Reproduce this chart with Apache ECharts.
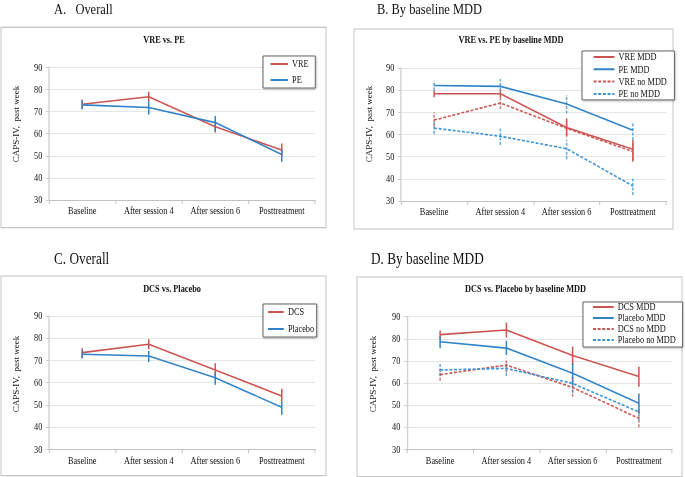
<!DOCTYPE html>
<html><head><meta charset="utf-8">
<script src="https://cdn.jsdelivr.net/npm/echarts@6/dist/echarts.min.js"></script>
<style>
html,body{margin:0;padding:0;overflow:hidden;background:#fff;width:685px;height:477px}
#main{height:477px;transform-origin:0 0;}
</style></head>
<body><div id="main"></div>
<script>
// ---------- data ----------
const categories = ['Baseline', 'After session 4', 'After session 6', 'Posttreatment'];
const yMin = 30, yMax = 90, yStep = 10;

// Panel A: VRE vs. PE
const vreMean = [73.3, 76.7, 63.1, 52.6];
const vreLow  = [71.3, 74.5, 60.5, 49.5];
const vreHigh = [75.3, 79.0, 65.5, 55.6];
const peMean  = [73.0, 71.8, 65.0, 50.6];
const peLow   = [71.0, 68.7, 61.1, 47.3];
const peHigh  = [75.0, 74.5, 68.0, 53.3];

// Panel B: VRE vs. PE by baseline MDD
const vreMddMean = [78.4, 78.4, 63.2, 53.3];
const vreMddLow  = [76.8, 76.6, 59.0, 47.7];
const vreMddHigh = [80.0, 80.4, 67.3, 57.5];
const peMddMean  = [82.1, 81.7, 73.8, 61.9];
const peMddLow   = [80.0, 79.8, 69.5, 57.5];
const peMddHigh  = [84.3, 85.0, 77.8, 65.8];
const vreNoMean  = [66.5, 74.2, 62.8, 52.3];
const vreNoLow   = [63.5, 71.4, 59.5, 48.5];
const vreNoHigh  = [70.0, 76.6, 66.0, 56.0];
const peNoMean   = [62.9, 59.2, 53.6, 36.8];
const peNoLow    = [60.2, 55.3, 48.8, 32.7];
const peNoHigh   = [65.5, 63.0, 57.5, 40.2];

// Panel C: DCS vs. Placebo
const dcsMean  = [73.5, 77.3, 65.7, 54.0];
const dcsLow   = [71.0, 75.0, 63.0, 51.5];
const dcsHigh  = [75.5, 79.5, 68.7, 57.2];
const plcMean  = [72.8, 72.0, 62.2, 48.9];
const plcLow   = [71.0, 69.3, 59.0, 45.5];
const plcHigh  = [74.5, 74.3, 64.5, 51.5];

// Panel D: DCS vs. Placebo by baseline MDD
const dcsMddMean = [81.9, 84.0, 72.4, 62.9];
const dcsMddLow  = [80.0, 80.6, 68.1, 58.3];
const dcsMddHigh = [83.7, 87.3, 76.4, 67.4];
const plcMddMean = [78.7, 75.8, 64.4, 50.8];
const plcMddLow  = [75.7, 72.7, 59.0, 46.3];
const plcMddHigh = [81.0, 79.1, 68.9, 55.3];
const dcsNoMean  = [63.8, 68.1, 58.0, 44.0];
const dcsNoLow   = [61.0, 64.7, 53.8, 40.0];
const dcsNoHigh  = [66.5, 71.0, 62.8, 48.0];
const plcNoMean  = [65.9, 66.6, 59.8, 46.9];
const plcNoLow   = [63.2, 63.2, 55.5, 43.0];
const plcNoHigh  = [68.6, 69.5, 64.0, 50.5];

// ---------- layout ----------
const SX = 0.83;                 // horizontal squeeze of the reference
const W = 685 / SX;
const X = v => v / SX;
const el = document.getElementById('main');
el.style.width = W + 'px';
el.style.transform = 'scaleX(' + SX + ')';

const FONT = '"Liberation Serif", "Times New Roman", serif';
const RED = '#cc5450', BLUE = '#2f83c8', BLUE2 = '#3a93d6';
const DASH = [3.6, 2];

const grids = [
  {left: X(49),  top: 67.3,  width: X(315) - X(49),  height: 132.7},
  {left: X(401), top: 68,    width: X(666) - X(401), height: 133},
  {left: X(49),  top: 316,   width: X(315) - X(49),  height: 133.3},
  {left: X(407), top: 316.7, width: X(672) - X(407), height: 132.6}
];

function xAx(i) {
  return {type: 'category', gridIndex: i, data: categories, boundaryGap: true,
    axisLine: {lineStyle: {color: '#bdbdbd', width: 1}},
    axisTick: {show: true, length: 4, lineStyle: {color: '#bdbdbd'}},
    axisLabel: {fontFamily: FONT, fontSize: 10, color: '#111', margin: 6, interval: 0},
    splitLine: {show: false}};
}
function yAx(i) {
  return {type: 'value', gridIndex: i, min: yMin, max: yMax, interval: yStep,
    axisLine: {show: true, lineStyle: {color: '#cfcfcf', width: 1.6}},
    axisTick: {show: true, length: 4, lineStyle: {color: '#cfcfcf'}},
    axisLabel: {fontFamily: FONT, fontSize: 10, color: '#111', margin: 8},
    splitLine: {show: true, lineStyle: {color: '#e4e4e4', width: 1}}};
}
function line(name, gi, data, color, dashed) {
  return {type: 'line', name, xAxisIndex: gi, yAxisIndex: gi, data, symbol: 'none', showSymbol: false,
    lineStyle: {color, width: 1.6, type: dashed ? DASH : 'solid'}, itemStyle: {color}, z: 3, silent: true};
}
function err(gi, lo, hi, color, dashed) {
  return {type: 'custom', xAxisIndex: gi, yAxisIndex: gi, z: 2, silent: true,
    data: lo.map((l, i) => [i, l, hi[i]]), encode: {x: 0, y: [1, 2]},
    renderItem: (p, api) => {
      const a = api.coord([api.value(0), api.value(1)]);
      const b = api.coord([api.value(0), api.value(2)]);
      return {type: 'line', shape: {x1: a[0], y1: a[1], x2: b[0], y2: b[1]},
        style: {stroke: color, lineWidth: 1.8, lineDash: dashed ? [3, 1.5] : null, opacity: dashed ? 0.8 : 1}};
    }};
}
function legend(names, left, top, itemWidth, gap, pad) {
  return {data: names, orient: 'vertical', left, top, itemWidth, itemHeight: 10, itemGap: gap,
    padding: pad, borderColor: '#555', borderWidth: 1, backgroundColor: '#fff',
    shadowColor: 'rgba(0,0,0,0.25)', shadowBlur: 2, shadowOffsetX: 1, shadowOffsetY: 1,
    itemStyle: {opacity: 0, borderWidth: 0},
    selectedMode: false, textStyle: {fontFamily: FONT, fontSize: 10, color: '#111'}};
}
function txt(t, x, y, size, bold, align) {
  return {type: 'text', x, y, silent: true,
    style: {text: t, font: (bold ? 'bold ' : '') + size + 'px ' + FONT, fill: '#111',
      align: align || 'left', verticalAlign: 'middle'}};
}
function vtxt(t, x, y) {
  return {type: 'text', x, y, rotation: Math.PI / 2, silent: true,
    style: {text: t, font: '9px ' + FONT, fill: '#111', align: 'center', verticalAlign: 'middle'}};
}
function box(x1, y1, x2, y2) {
  return {type: 'rect', silent: true, z: -10,
    shape: {x: X(x1), y: y1, width: X(x2) - X(x1), height: y2 - y1},
    style: {fill: 'none', stroke: '#c4c4c4', lineWidth: 1.2}};
}
const yName = 'CAPS-IV,\u00a0\u00a0past week';

const option = {
  animation: false,
  backgroundColor: '#fff',
  grid: grids,
  xAxis: [xAx(0), xAx(1), xAx(2), xAx(3)],
  yAxis: [yAx(0), yAx(1), yAx(2), yAx(3)],
  legend: [
    legend(['VRE', 'PE'], X(263), 56, 21, 6, [3, 8, 3, 8]),
    legend(['VRE MDD', 'PE MDD', 'VRE no MDD', 'PE no MDD'], X(582), 51, 25, 2.3, [1, 9, 1, 13]),
    legend(['DCS', 'Placebo'], X(263), 304, 19, 7, [3, 3, 3, 5]),
    legend(['DCS MDD', 'Placebo MDD', 'DCS no MDD', 'Placebo no MDD'], X(583), 302, 25, 1, [0, 8, 2, 11])
  ],
  series: [
    err(0, vreLow, vreHigh, RED, false), err(0, peLow, peHigh, BLUE, false),
    line('VRE', 0, vreMean, RED, false), line('PE', 0, peMean, BLUE, false),

    err(1, vreMddLow, vreMddHigh, RED, false), err(1, peMddLow, peMddHigh, BLUE2, true),
    err(1, vreNoLow, vreNoHigh, RED, true), err(1, peNoLow, peNoHigh, BLUE2, true),
    line('VRE MDD', 1, vreMddMean, RED, false), line('PE MDD', 1, peMddMean, BLUE, false),
    line('VRE no MDD', 1, vreNoMean, RED, true), line('PE no MDD', 1, peNoMean, BLUE2, true),

    err(2, dcsLow, dcsHigh, RED, false), err(2, plcLow, plcHigh, BLUE, false),
    line('DCS', 2, dcsMean, RED, false), line('Placebo', 2, plcMean, BLUE, false),

    err(3, dcsMddLow, dcsMddHigh, RED, false), err(3, plcMddLow, plcMddHigh, BLUE, false),
    err(3, dcsNoLow, dcsNoHigh, RED, true), err(3, plcNoLow, plcNoHigh, BLUE2, true),
    line('DCS MDD', 3, dcsMddMean, RED, false), line('Placebo MDD', 3, plcMddMean, BLUE, false),
    line('DCS no MDD', 3, dcsNoMean, RED, true), line('Placebo no MDD', 3, plcNoMean, BLUE2, true)
  ],
  graphic: [
    box(1, 27.3, 326, 227.7), box(354, 29, 673, 229),
    box(1, 276, 326, 475.7), box(357, 277, 682, 476.5),
    txt('A.\u00a0\u00a0\u00a0Overall', X(54), 9.5, 15, false),
    txt('B. By baseline MDD', X(377), 9.5, 15, false),
    txt('C. Overall', X(54), 259, 16, false),
    txt('D. By baseline MDD', X(371), 259, 16, false),
    txt('VRE vs. PE', X(164), 40, 10, true, 'center'),
    txt('VRE vs. PE by baseline MDD', X(511), 40, 10, true, 'center'),
    txt('DCS vs. Placebo', X(172), 289, 10, true, 'center'),
    txt('DCS vs. Placebo by baseline MDD', X(525.5), 289, 10, true, 'center'),
    vtxt(yName, X(17), 124), vtxt(yName, X(370), 124),
    vtxt(yName, X(17), 374), vtxt(yName, X(373.7), 374)
  ]
};
const chart = echarts.init(el, null, {renderer: 'svg', width: W, height: 477});
chart.setOption(option);
</script>
</body></html>
